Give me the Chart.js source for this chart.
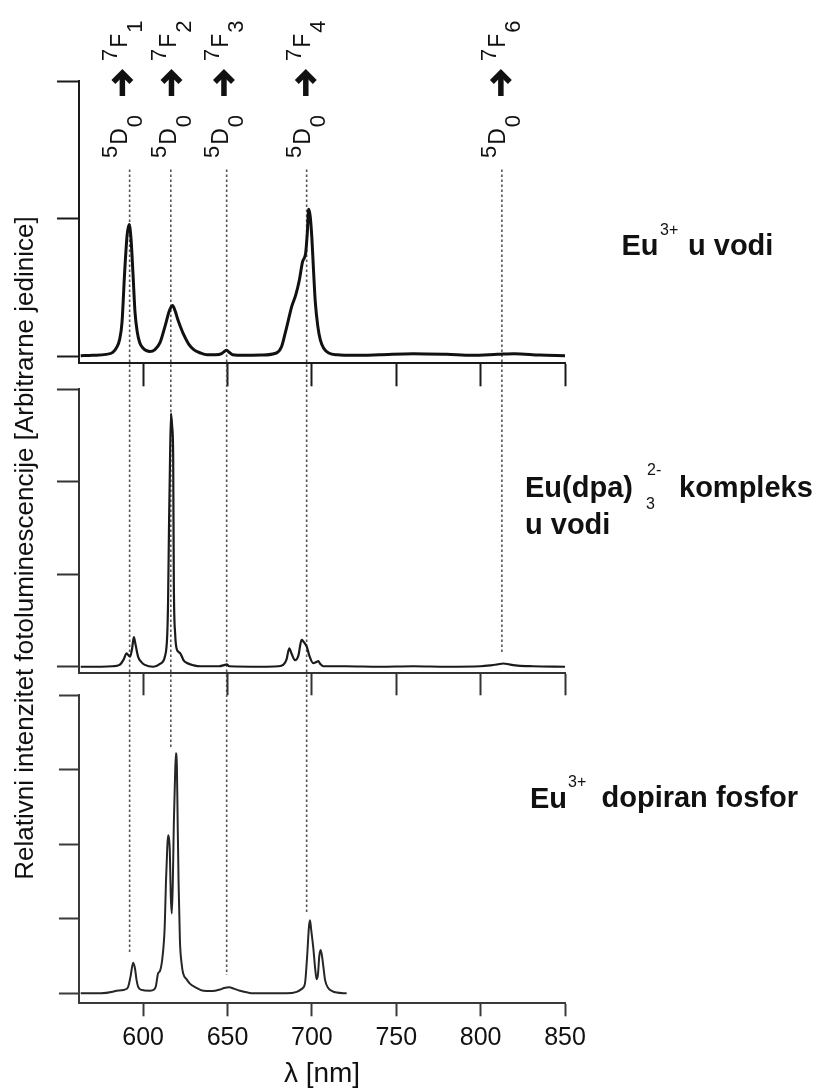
<!DOCTYPE html>
<html>
<head>
<meta charset="utf-8">
<title>Fotoluminescencija Eu3+</title>
<script src="https://cdn.jsdelivr.net/npm/chart.js@4.4.1/dist/chart.umd.min.js"></script>
<style>
  html, body { margin: 0; padding: 0; background: #fff; }
  #figure { position: relative; width: 820px; height: 1091px; }
  #figure canvas { position: absolute; left: 0; top: 0; }
</style>
</head>
<body>
<div id="figure">
  <canvas id="panelWater" width="820" height="1091"></canvas>
  <canvas id="panelDpa" width="820" height="1091"></canvas>
  <canvas id="panelPhosphor" width="820" height="1091"></canvas>
</div>
<script>
const FONT = '"Liberation Sans", Arial, Helvetica, sans-serif';

const xTickValues = [600, 650, 700, 750, 800, 850];
const waterTicks = [0, 1, 2];
const dpaTicks = [0, 1, 2, 3];
const phosphorTicks = [0, 1, 2, 3, 4];

// Eu3+ u vodi
const waterNm = [563, 570, 578, 582, 584.5, 586, 587.5, 589, 590.5, 591.7, 592.8, 594, 595.2, 596.5, 598, 600, 604, 607, 610, 613,
    615.5, 617.4, 619, 620.5, 622, 624, 627, 630, 634, 638, 643, 646.5, 648.5, 649.5, 651, 653, 660, 670, 679, 682,
    684, 686, 688, 690.5, 692.5, 694.5, 696.3, 697.3, 698.1, 699, 700, 701, 702, 703.5, 705, 707, 710, 715, 725, 740,
    760, 780, 795, 810, 820, 835, 850];
const waterI = [0.005, 0.008, 0.015, 0.03, 0.07, 0.12, 0.25, 0.6, 0.88, 0.96, 0.86, 0.6, 0.32, 0.18, 0.1, 0.06, 0.036, 0.05, 0.1, 0.22,
    0.33, 0.37, 0.33, 0.27, 0.22, 0.16, 0.09, 0.05, 0.025, 0.012, 0.012, 0.02, 0.04, 0.045, 0.03, 0.012, 0.008, 0.01, 0.025, 0.07,
    0.16, 0.26, 0.36, 0.45, 0.55, 0.69, 0.75, 0.9, 1.07, 1.02, 0.86, 0.62, 0.4, 0.22, 0.12, 0.06, 0.025, 0.012, 0.008, 0.012,
    0.02, 0.015, 0.008, 0.015, 0.02, 0.01, 0.005];

// Eu(dpa)3 2- kompleks u vodi
const dpaNm = [563, 575, 582, 586, 588.5, 590.2, 591.5, 592.3, 593.5, 594.5, 595.5, 597, 599, 601, 606, 610, 612.9, 614.3, 614.8, 615.4,
    615.8, 616.5, 617.2, 617.8, 618.2, 619, 619.8, 621, 622, 624, 626, 630, 634, 645, 648.5, 649.5, 651, 670, 680, 683,
    685, 686.6, 688, 690, 692, 693.9, 695.5, 696.9, 698.5, 700.8, 702.5, 703.8, 705, 706.8, 720, 740, 760, 780, 800, 806,
    810, 813.5, 817, 822, 831, 850];
const dpaI = [0, 0, 0.005, 0.02, 0.08, 0.145, 0.12, 0.11, 0.2, 0.32, 0.24, 0.11, 0.05, 0.02, 0, 0.03, 0.11, 0.35, 0.72, 1.6,
    2.06, 2.74, 2.6, 2.29, 0.9, 0.35, 0.2, 0.16, 0.145, 0.07, 0.04, 0.015, 0.005, 0.005, 0.02, 0.025, 0.005, 0, 0.005, 0.02,
    0.08, 0.2, 0.14, 0.07, 0.12, 0.29, 0.26, 0.22, 0.12, 0.04, 0.05, 0.06, 0.03, 0.005, 0.005, 0, 0.005, 0, 0.005, 0.015,
    0.025, 0.035, 0.025, 0.012, 0.005, 0];

// Eu3+ dopiran fosfor
const phosphorNm = [563, 575, 582, 584.2, 587, 589.1, 591, 592.5, 594.1, 595.2, 596.1, 597, 598.5, 604, 606.5, 607.5, 608.9, 610, 611.5, 612.8,
    613.5, 614.3, 614.8, 615.3, 615.8, 616.4, 617, 617.6, 618.2, 618.8, 619.4, 620, 620.4, 621, 621.8, 622.8, 623.7, 626, 627.7, 631,
    635.6, 641, 645.5, 648, 651, 654, 657.4, 662, 665.2, 685, 691, 694, 695.9, 697.2, 698.3, 698.9, 699.6, 700.8, 702, 702.8,
    703.6, 704.4, 705.2, 706, 706.8, 707.8, 709.7, 712, 714.7, 720.6];
const phosphorI = [0, 0, 0.02, 0.035, 0.04, 0.05, 0.08, 0.22, 0.41, 0.33, 0.18, 0.09, 0.05, 0.035, 0.05, 0.09, 0.27, 0.3, 0.49, 0.9,
    1.47, 1.95, 2.12, 2.08, 1.92, 1.3, 1.07, 1.5, 2.28, 2.8, 3.22, 3.05, 2.41, 1.5, 0.71, 0.4, 0.27, 0.18, 0.13, 0.08,
    0.035, 0.03, 0.05, 0.07, 0.08, 0.06, 0.035, 0.01, 0, 0, 0.02, 0.06, 0.13, 0.5, 0.9, 0.98, 0.85, 0.62, 0.32, 0.19,
    0.25, 0.5, 0.58, 0.5, 0.36, 0.18, 0.07, 0.03, 0.01, 0];

// 5D0 -> 7FJ transitions
const transitionNm = [587.7, 616.8, 647.9, 696.4, 812];
const transitionJ = ['1', '2', '3', '4', '6'];
const guideNm = [592, 616.4, 649.5, 696.9, 812.6];
const guideStartValue = 1.36;
const guideEndPanel = [2, 2, 2, 2, 1];
const guideEndValue = [0.54, 3.29, 0.245, 1.08, 0.15];

const panels = [
    { id: 'panelWater', nm: waterNm, values: waterI, ticks: waterTicks, min: -0.05, max: 2,
      top: 81.4, bottom: 363.3, xTick: 23, yTick: 22, width: 3, color: '#111', axis: '#1a1a1a', labels: false },
    { id: 'panelDpa', nm: dpaNm, values: dpaI, ticks: dpaTicks, min: -0.071, max: 3,
      top: 389.3, bottom: 673.3, xTick: 22, yTick: 22, width: 2.2, color: '#1a1a1a', axis: '#333', labels: false },
    { id: 'panelPhosphor', nm: phosphorNm, values: phosphorI, ticks: phosphorTicks, min: -0.134, max: 4,
      top: 695, bottom: 1003.3, xTick: 13, yTick: 20, width: 2, color: '#262626', axis: '#3a3a3a', labels: true }
];

const charts = [];

const drawTransition = (ctx, cx, j) => {
    const put = (text, size, startY, shift) => {
        ctx.save();
        ctx.translate(cx + shift, startY);
        ctx.rotate(-Math.PI / 2);
        ctx.font = size + 'px ' + FONT;
        ctx.fillText(text, 0, 0);
        const w = ctx.measureText(text).width;
        ctx.restore();
        return startY - w;
    };
    let y = 158;
    y = put('5', 22, y, -5) - 1;
    y = put('D', 23, y, 4.5) - 1;
    put('0', 22, y, 19.5);

    ctx.save();
    ctx.lineWidth = 5.5;
    ctx.lineCap = 'butt';
    ctx.lineJoin = 'miter';
    ctx.beginPath();
    ctx.moveTo(cx, 96);
    ctx.lineTo(cx, 75);
    ctx.stroke();
    ctx.beginPath();
    ctx.moveTo(cx - 9, 82);
    ctx.lineTo(cx, 73);
    ctx.lineTo(cx + 9, 82);
    ctx.stroke();
    ctx.restore();

    y = 61;
    y = put('7', 22, y, -5) - 1;
    y = put('F', 23, y, 4.5) - 1;
    put(j, 22, y, 19.5);
};

const sampleLabels = [
    [['Eu', 621.5, 255, 'bold 29px'], ['3+', 660, 235, '16px'], ['u vodi', 688, 255, 'bold 29px']],
    [['Eu(dpa)', 525, 497, 'bold 29px'], ['2-', 647, 475, '16px'], ['3', 646, 508.5, '16px'],
     ['kompleks', 679, 497, 'bold 29px'], ['u vodi', 525, 533.5, 'bold 29px']],
    [['Eu', 530, 808, 'bold 29px'], ['3+', 568, 787, '16px'], ['dopiran fosfor', 601.5, 807, 'bold 29px']]
];

const figureNotes = {
    id: 'figureNotes',
    beforeDatasetsDraw(chart) {
        const ctx = chart.ctx;
        const x = chart.scales.x;
        ctx.save();
        ctx.strokeStyle = '#555';
        ctx.lineWidth = 1.6;
        ctx.setLineDash([2.5, 2.5]);
        guideNm.forEach((nm, i) => {
            const px = x.getPixelForValue(nm);
            const y0 = chart.scales.y.getPixelForValue(guideStartValue);
            const y1 = charts[guideEndPanel[i]].scales.y.getPixelForValue(guideEndValue[i]);
            ctx.beginPath();
            ctx.moveTo(px, y0);
            ctx.lineTo(px, y1);
            ctx.stroke();
        });
        ctx.restore();
    },
    afterDraw(chart) {
        const ctx = chart.ctx;
        const x = chart.scales.x;
        ctx.save();
        ctx.fillStyle = '#111';
        ctx.strokeStyle = '#111';
        ctx.textAlign = 'left';
        ctx.textBaseline = 'alphabetic';
        transitionNm.forEach((nm, i) => drawTransition(ctx, x.getPixelForValue(nm), transitionJ[i]));

        sampleLabels.forEach((parts) => {
            parts.forEach(([text, px, py, font]) => {
                ctx.font = font + ' ' + FONT;
                ctx.fillText(text, px, py);
            });
        });

        ctx.translate(26, 548);
        ctx.rotate(-Math.PI / 2);
        ctx.textAlign = 'center';
        ctx.textBaseline = 'middle';
        ctx.font = '26px ' + FONT;
        ctx.fillText('Relativni intenzitet fotoluminescencije [Arbitrarne jedinice]', 0, 0);
        ctx.restore();
    }
};

const makePanel = (p, plugins) => {
    const xHeight = p.labels ? 1091 - p.bottom : p.xTick + 2;
    return new Chart(document.getElementById(p.id), {
        type: 'line',
        data: {
            datasets: [{
                data: p.nm.map((nm, i) => ({ x: nm, y: p.values[i] })),
                borderColor: p.color,
                borderWidth: p.width,
                pointRadius: 0,
                fill: false,
                cubicInterpolationMode: 'monotone'
            }]
        },
        options: {
            responsive: false,
            animation: false,
            devicePixelRatio: 1,
            events: [],
            layout: { padding: { left: 0, right: 255, top: p.top, bottom: 1091 - p.bottom - xHeight } },
            plugins: { legend: { display: false }, tooltip: { enabled: false } },
            scales: {
                x: {
                    type: 'linear',
                    min: 562,
                    max: 850,
                    afterBuildTicks: (s) => { s.ticks = xTickValues.map((v) => ({ value: v })); },
                    afterFit: (s) => { s.height = xHeight; s.paddingLeft = 0; s.paddingRight = 0; },
                    border: { display: true, color: p.axis, width: 2 },
                    grid: { drawOnChartArea: false, drawTicks: true, tickLength: p.xTick, tickWidth: 2, tickColor: p.axis },
                    ticks: { display: p.labels, autoSkip: false, maxRotation: 0, padding: 7, color: '#111', font: { size: 25 } },
                    title: { display: p.labels, text: 'λ [nm]', color: '#111', font: { size: 28 }, padding: 0 }
                },
                y: {
                    min: p.min,
                    max: p.max,
                    afterBuildTicks: (s) => { s.ticks = p.ticks.map((v) => ({ value: v })); },
                    afterFit: (s) => { s.width = 79; s.paddingTop = 0; s.paddingBottom = 0; },
                    border: { display: true, color: p.axis, width: 2 },
                    grid: { drawOnChartArea: false, drawTicks: true, tickLength: p.yTick, tickWidth: 2, tickColor: p.axis },
                    ticks: { display: false }
                }
            }
        },
        plugins
    });
};

Chart.defaults.font.family = FONT;
for (let i = panels.length - 1; i >= 0; i--) {
    charts[i] = makePanel(panels[i], i === 0 ? [figureNotes] : []);
}
</script>
</body>
</html>
